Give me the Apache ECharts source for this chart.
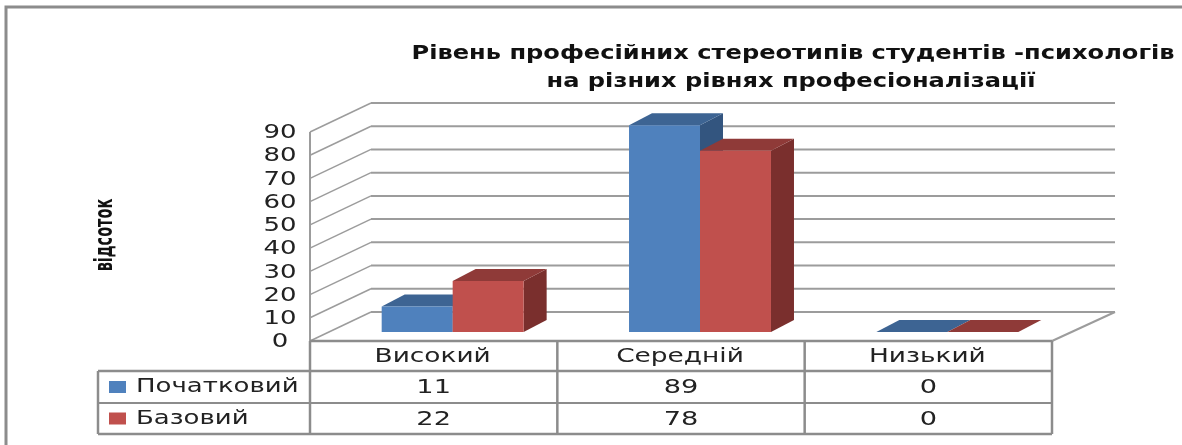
<!DOCTYPE html>
<html>
<head>
<meta charset="utf-8">
<style>
  html, body { margin: 0; padding: 0; background: #fff; }
  #main { width: 1182px; height: 445px; }
</style>
<script src="https://cdn.jsdelivr.net/npm/echarts@6/dist/echarts.min.js"></script>
</head>
<body>
<div id="main"></div>
<script>
const categories = ['Високий', 'Середній', 'Низький'];
const startLevel = [11, 89, 0];
const baseLevel = [22, 78, 0];
const startName = 'Початковий';
const baseName = 'Базовий';
const yTicks = [0, 10, 20, 30, 40, 50, 60, 70, 80, 90];
const titleLines = ['Рівень професійних стереотипів студентів -психологів', 'на різних рівнях професіоналізації'];
const yName = 'відсоток';

const FONT = '"DejaVu Sans", sans-serif';
const GRID_COLOR = '#9c9c9c';
const TABLE_COLOR = '#8c8c8c';
const TEXT_COLOR = '#222';
// depth of the fake 3d box
const WALL_DX = 61, WALL_DY = -29;
// bars stand a bit inside the floor
const BAR_DX = 19, BAR_DY = -9;
const TOP_DX = 23, TOP_DY = -12;
const BAR_SHARE = 0.287;
const ROWS = [371, 403, 434];
const TABLE_LEFT = 98;

function label(text, x, y, size, scaleX, align, weight) {
    return {
        type: 'text',
        x, y, scaleX,
        style: {
            text,
            x: 0,
            y: 0,
            fill: TEXT_COLOR,
            font: (weight || 'normal') + ' ' + size + 'px ' + FONT,
            align: align || 'center',
            verticalAlign: 'middle'
        }
    };
}

function seg(x1, y1, x2, y2, color, lineWidth) {
    return {
        type: 'line',
        shape: { x1, y1, x2, y2 },
        style: { stroke: color, lineWidth }
    };
}

function renderWalls(params, api) {
    const children = [];
    const band = api.size([1, 0])[0];
    const x0 = api.coord([0, 0])[0] - band / 2;
    const x1 = x0 + band * categories.length;
    yTicks.forEach((t) => {
        const y = api.coord([0, t])[1];
        children.push(seg(x0, y, x0 + WALL_DX, y + WALL_DY, GRID_COLOR, 1.5));
        children.push(seg(x0 + WALL_DX, y + WALL_DY, x1 + WALL_DX + 2, y + WALL_DY, GRID_COLOR, 2));
        children.push(label(String(t), x0 - 30, y + 1, 20, 1.3));
    });
    const yBottom = api.coord([0, 0])[1];
    const yTop = api.coord([0, 90])[1];
    children.push(seg(x0, yTop, x0, yBottom, GRID_COLOR, 2));
    children.push(seg(x1, yBottom, x1 + WALL_DX + 2, yBottom + WALL_DY, GRID_COLOR, 2));
    return { type: 'group', children };
}

function renderTable(params, api) {
    const children = [];
    const band = api.size([1, 0])[0];
    const x0 = api.coord([0, 0])[0] - band / 2;
    const x1 = x0 + band * categories.length;
    const yBottom = api.coord([0, 0])[1];
    const rowTop = ROWS[0], rowMid = ROWS[1], rowEnd = ROWS[2];

    children.push(seg(x0, yBottom, x1, yBottom, TABLE_COLOR, 2.5));
    children.push(seg(TABLE_LEFT, rowTop, x1, rowTop, TABLE_COLOR, 2.5));
    children.push(seg(TABLE_LEFT, rowMid, x1, rowMid, TABLE_COLOR, 2));
    children.push(seg(TABLE_LEFT, rowEnd, x1, rowEnd, TABLE_COLOR, 2.5));
    children.push(seg(TABLE_LEFT, rowTop, TABLE_LEFT, rowEnd, TABLE_COLOR, 2.5));
    for (let i = 0; i <= categories.length; i++) {
        children.push(seg(x0 + band * i, yBottom, x0 + band * i, rowEnd, TABLE_COLOR, 2.5));
    }

    categories.forEach((name, i) => {
        const cx = api.coord([i, 0])[0];
        children.push(label(name, cx - 1, (yBottom + rowTop) / 2 + 1, 20, 1.32));
        children.push(label(String(startLevel[i]), cx, (rowTop + rowMid) / 2 + 1, 20, 1.36));
        children.push(label(String(baseLevel[i]), cx, (rowMid + rowEnd) / 2 + 1, 20, 1.36));
    });

    [[startName, '#4F81BD', rowTop, rowMid], [baseName, '#C0504D', rowMid, rowEnd]].forEach((row) => {
        const cy = (row[2] + row[3]) / 2;
        children.push({
            type: 'rect',
            shape: { x: TABLE_LEFT + 11, y: cy - 6, width: 17, height: 12 },
            style: { fill: row[1] }
        });
        children.push(label(row[0], TABLE_LEFT + 38, cy, 20, 1.3, 'left'));
    });
    return { type: 'group', children };
}

function barRenderer(side, front, topColor, sideColor) {
    return function (params, api) {
        const i = api.value(0);
        const v = api.value(1);
        const band = api.size([1, 0])[0];
        const base = api.coord([i, 0]);
        const top = api.coord([i, v]);
        const w = band * BAR_SHARE;
        const cx = base[0] + BAR_DX;
        const xa = side < 0 ? cx - w : cx;
        const xb = xa + w;
        const yb = base[1] + BAR_DY;
        const yt = top[1] + BAR_DY;
        return {
            type: 'group',
            children: [
                {
                    type: 'polygon',
                    shape: { points: [[xb, yb], [xb + TOP_DX, yb + TOP_DY], [xb + TOP_DX, yt + TOP_DY], [xb, yt]] },
                    style: { fill: sideColor }
                },
                {
                    type: 'polygon',
                    shape: { points: [[xa, yt], [xa + TOP_DX, yt + TOP_DY], [xb + TOP_DX, yt + TOP_DY], [xb, yt]] },
                    style: { fill: topColor }
                },
                {
                    type: 'rect',
                    shape: { x: xa, y: yt, width: w, height: yb - yt },
                    style: { fill: front }
                }
            ]
        };
    };
}

const chart = echarts.init(document.getElementById('main'));
chart.setOption({
    animation: false,
    backgroundColor: '#fff',
    grid: { left: 310, right: 130, top: 132, bottom: 104 },
    xAxis: { type: 'category', data: categories, show: false },
    yAxis: { type: 'value', min: 0, max: 90, interval: 10, show: false },
    graphic: [
        // outer frame of the pasted chart, only top and left are in the shot
        { type: 'polyline', shape: { points: [[6, 445], [6, 7], [1182, 7]] }, style: { stroke: '#8c8c8c', fill: null, lineWidth: 3 } },
        { type: 'text', x: 793, y: 54, scaleX: 1.27, style: { text: titleLines[0], font: 'bold 19px ' + FONT, fill: '#111', align: 'center', verticalAlign: 'middle' } },
        { type: 'text', x: 791, y: 82, scaleX: 1.27, style: { text: titleLines[1], font: 'bold 19px ' + FONT, fill: '#111', align: 'center', verticalAlign: 'middle' } },
        { type: 'text', x: 105, y: 235, rotation: Math.PI / 2, scaleX: 0.58, style: { text: yName, font: 'bold 25px ' + FONT, fill: '#111', align: 'center', verticalAlign: 'middle' } }
    ],
    series: [
        { type: 'custom', name: 'walls', silent: true, clip: false, data: [[0, 0]], renderItem: renderWalls, z: 1 },
        { type: 'custom', name: startName, clip: false, data: startLevel.map((v, i) => [i, v]), encode: { x: 0, y: 1 }, renderItem: barRenderer(-1, '#4F81BD', '#3D6493', '#33557F'), z: 2 },
        { type: 'custom', name: baseName, clip: false, data: baseLevel.map((v, i) => [i, v]), encode: { x: 0, y: 1 }, renderItem: barRenderer(1, '#C0504D', '#8F3A38', '#7A2F2D'), z: 3 },
        { type: 'custom', name: 'table', silent: true, clip: false, data: [[0, 0]], renderItem: renderTable, z: 4 }
    ]
});
</script>
</body>
</html>
